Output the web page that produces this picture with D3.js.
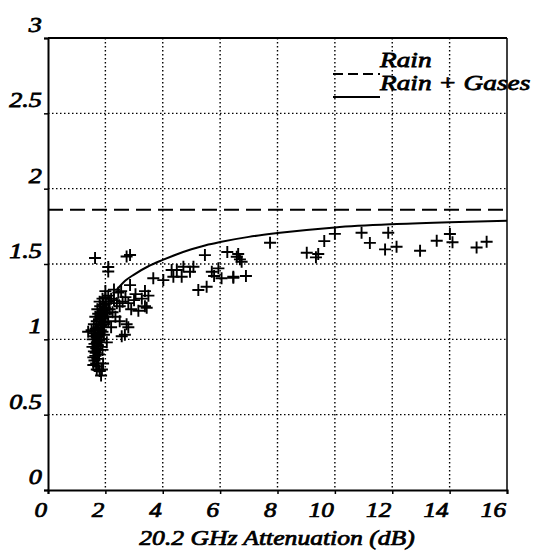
<!DOCTYPE html>
<html>
<head>
<meta charset="utf-8">
<script src="https://cdn.jsdelivr.net/npm/d3@7"></script>
<style>
  html, body { margin: 0; padding: 0; background: #fff; }
  svg { display: block; }
</style>
</head>
<body>
<script>
// Axis ticks
const xTicks = [0, 2, 4, 6, 8, 10, 12, 14, 16];
const yTicks = [0, 0.5, 1, 1.5, 2, 2.5, 3];
const yTickLabels = ["0", "0.5", "1", "1.5", "2", "2.5", "3"];

// Legend entries
const legendLabels = ["Rain", "Rain + Gases"];

// Rain-only prediction (constant ratio)
const rainRatio = 1.86;

// Rain + gases prediction curve
const curveX = [2.4, 2.7, 3.0, 3.5, 4.0, 4.5, 5.0, 5.5, 6.0, 7.0, 8.0, 10.0, 12.0, 14.0, 16.0];
const curveY = [1.33, 1.39, 1.43, 1.485, 1.527, 1.565, 1.598, 1.625, 1.646, 1.68, 1.705, 1.743, 1.764, 1.777, 1.787];

// Measured ratios vs 20.2 GHz attenuation (dB)
const measX = [
  1.85, 1.80, 1.75, 1.68, 1.62, 1.58, 1.65, 1.72, 1.78, 1.60, 1.68, 1.75, 1.82, 1.62, 1.70, 1.78,
  1.86, 1.56, 1.64, 1.72, 1.80, 1.90, 1.40, 1.52, 1.66, 1.75, 1.85, 1.95, 1.60, 1.70, 1.80, 1.90,
  2.00, 1.65, 1.75, 1.85, 1.95, 2.05, 1.72, 1.82, 1.92, 2.02, 2.12, 1.80, 1.90, 2.00, 2.10, 2.20,
  2.30, 2.40, 2.50, 2.60, 2.70, 2.80, 2.90, 3.00, 2.15, 2.25, 2.35, 2.10, 2.20, 1.95, 2.05, 1.90,
  2.68, 2.80, 2.74, 2.57, 2.50, 3.15, 3.44, 3.38, 3.27, 3.38, 3.50, 2.86, 2.45, 2.30, 2.55, 3.05,
  1.88, 1.70, 1.64, 2.10, 2.10, 2.74, 2.86, 2.00, 1.55, 1.92,
  1.58, 1.66, 1.74, 1.60, 1.70, 1.84, 1.96, 2.06, 1.88, 1.98,
  3.67, 4.02, 4.31, 4.37, 4.66, 4.95, 5.07, 5.24, 5.53, 5.71, 5.94, 6.05, 5.79, 6.46, 4.72, 4.49,
  5.47, 6.25, 6.58,
  6.63, 6.69, 6.75, 6.46, 6.90, 7.74, 9.02, 9.42, 9.34, 9.63,
  10.0, 10.93, 11.22, 11.86, 11.75, 12.15, 12.97, 13.55, 14.01, 14.10, 14.94, 15.29
];
const measY = [
  0.76, 0.79, 0.82, 0.84, 0.86, 0.88, 0.89, 0.87, 0.90, 0.92, 0.94, 0.93, 0.95, 0.97, 0.98, 0.99,
  1.00, 1.00, 1.02, 1.03, 1.04, 1.05, 1.05, 1.06, 1.07, 1.08, 1.09, 1.10, 1.10, 1.12, 1.13, 1.14,
  1.15, 1.15, 1.17, 1.18, 1.19, 1.20, 1.20, 1.22, 1.23, 1.24, 1.25, 1.25, 1.27, 1.28, 1.29, 1.27,
  1.26, 1.24, 1.22, 1.25, 1.28, 1.24, 1.20, 1.26, 1.20, 1.18, 1.15, 1.12, 1.08, 1.03, 0.98, 0.93,
  1.03, 1.08, 1.10, 1.02, 1.12, 1.19, 1.21, 1.22, 1.27, 1.32, 1.29, 1.36, 1.31, 1.33, 1.32, 1.30,
  0.80, 0.80, 1.54, 1.48, 1.45, 1.55, 1.56, 1.32, 0.95, 0.84,
  0.83, 0.91, 0.96, 1.04, 1.01, 1.06, 1.11, 1.17, 1.16, 1.21,
  1.405, 1.393, 1.46, 1.415, 1.415, 1.449, 1.482, 1.327, 1.349, 1.449, 1.471, 1.405, 1.42, 1.415, 1.482, 1.46,
  1.559, 1.58, 1.548,
  1.566, 1.531, 1.515, 1.409, 1.42, 1.641, 1.575, 1.566, 1.544, 1.652,
  1.70, 1.707, 1.64, 1.707, 1.597, 1.614, 1.588, 1.654, 1.699, 1.644, 1.61, 1.648
];

const W = 536, H = 551;
const plotL = 48, plotR = 507, plotT = 38, plotB = 490;

const svg = d3.select("body").append("svg").attr("width", W).attr("height", H);

// Pick the first installed Times-like serif face
function pickSerif() {
  const probe = svg.append("text").attr("font-size", 40).text("Rain + Gases 20.2 (dB)");
  const width = fam => probe.attr("font-family", fam).node().getComputedTextLength();
  const baseMono = width("monospace"), baseSans = width("sans-serif");
  const candidates = ["Liberation Serif", "Times New Roman", "Tinos", "Nimbus Roman", "DejaVu Serif"];
  let found = "serif";
  for (const c of candidates) {
    if (width(`'${c}', monospace`) !== baseMono && width(`'${c}', sans-serif`) !== baseSans) { found = `'${c}'`; break; }
  }
  probe.remove();
  return found;
}
const serif = pickSerif();

const x = d3.scaleLinear().domain([0, 16]).range([plotL, plotR]);
const y = d3.scaleLinear().domain([0, 3]).range([plotB, plotT]);

// Dotted grid
const grid = svg.append("g").attr("stroke", "#000").attr("stroke-width", 1.4)
  .attr("stroke-dasharray", "1.5,2.5").attr("fill", "none");
grid.selectAll("line.gx").data(xTicks.filter(t => t > 0 && t < 16)).join("line")
  .attr("class", "gx")
  .attr("x1", d => x(d)).attr("x2", d => x(d)).attr("y1", plotT).attr("y2", plotB);
grid.selectAll("line.gy").data(yTicks.filter(t => t > 0 && t < 3)).join("line")
  .attr("class", "gy")
  .attr("y1", d => y(d)).attr("y2", d => y(d)).attr("x1", plotL).attr("x2", plotR);

// Frame: top and right borders
svg.append("line").attr("x1", plotL).attr("x2", plotR).attr("y1", plotT).attr("y2", plotT)
  .attr("stroke", "#000").attr("stroke-width", 2);
svg.append("line").attr("x1", plotR).attr("x2", plotR).attr("y1", plotT).attr("y2", plotB)
  .attr("stroke", "#000").attr("stroke-width", 1.5);

// Axes
const xAxis = svg.append("g").attr("transform", `translate(0,${plotB})`)
  .call(d3.axisBottom(x).tickValues(xTicks).tickSize(4).tickFormat(""));
const yAxis = svg.append("g").attr("transform", `translate(${plotL},0)`)
  .call(d3.axisLeft(y).tickValues(yTicks).tickSize(4).tickFormat(""));
[xAxis, yAxis].forEach(a => {
  a.select(".domain").attr("stroke", "#000").attr("stroke-width", 2);
  a.selectAll(".tick line").attr("stroke", "#000").attr("stroke-width", 1.5);
});

// Horizontally stretched italic serif text
function label(gx, gy, str, size, sx, anchor) {
  const g = svg.append("g").attr("transform", `translate(${gx},${gy}) scale(${sx},1)`);
  g.append("text")
    .attr("font-family", serif).attr("font-style", "italic")
    .attr("font-size", size).attr("text-anchor", anchor)
    .attr("fill", "#000").attr("stroke", "#000").attr("stroke-width", 0.75)
    .text(str);
}

// Tick labels
xTicks.forEach(t => label(x(t) - 1, 517, String(t), 21, 1.2, "end"));
yTicks.forEach((t, i) => label(42, y(t) - 6, yTickLabels[i], 21, 1.25, "end"));

// Axis title
label(277, 545, "20.2 GHz Attenuation (dB)", 21, 1.22, "middle");

// Rain line
svg.append("line").attr("x1", plotL).attr("x2", plotR)
  .attr("y1", y(rainRatio)).attr("y2", y(rainRatio))
  .attr("stroke", "#000").attr("stroke-width", 2).attr("stroke-dasharray", "15,7");

// Rain + gases curve
const curvePts = curveX.map((v, i) => [v, curveY[i]]);
svg.append("path").datum(curvePts)
  .attr("d", d3.line().x(d => x(d[0])).y(d => y(d[1])).curve(d3.curveMonotoneX))
  .attr("fill", "none").attr("stroke", "#000").attr("stroke-width", 2);

// Measurements as crosses
const pts = measX.map((v, i) => [v, measY[i]]);
const arm = 6;
svg.append("g").attr("stroke", "#000").attr("stroke-width", 1.9)
  .selectAll("path").data(pts).join("path")
  .attr("d", d => {
    const px = x(d[0]), py = y(d[1]);
    return `M${px - arm},${py}H${px + arm}M${px},${py - arm}V${py + arm}`;
  });

// Legend
const lg = [{ dash: "10,5", ly: 74, ty: 67 }, { dash: null, ly: 97, ty: 90 }];
lg.forEach((e, i) => {
  const l = svg.append("line").attr("x1", 333).attr("x2", 380).attr("y1", e.ly).attr("y2", e.ly)
    .attr("stroke", "#000").attr("stroke-width", 2);
  if (e.dash) l.attr("stroke-dasharray", e.dash);
  label(380, e.ty, legendLabels[i], 21, 1.3, "start");
});
</script>
</body>
</html>
